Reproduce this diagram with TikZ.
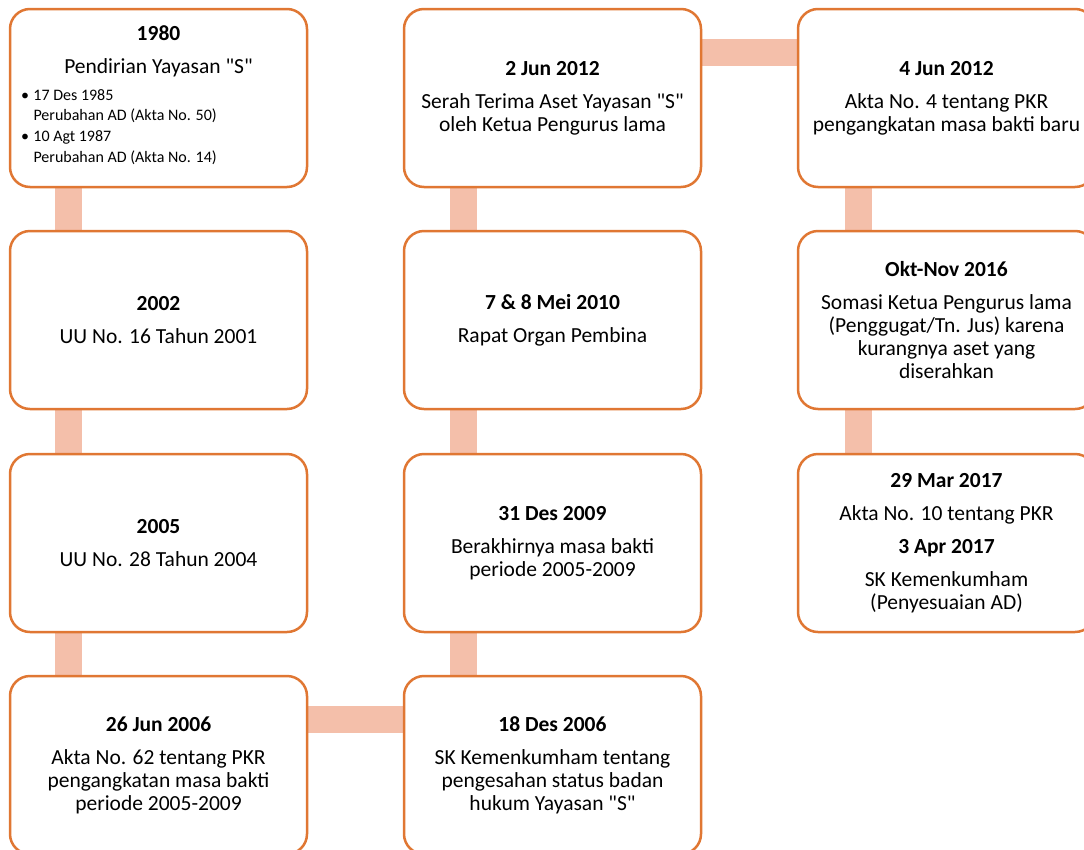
\documentclass[tikz,border=0pt]{standalone}
\usepackage{fontspec}
\setmainfont{Carlito}
\usetikzlibrary{backgrounds}
\definecolor{boxline}{HTML}{E07733}
\definecolor{barfill}{HTML}{F4BFAA}
\tikzset{
  evbox/.style={draw=boxline, line width=2.5pt, fill=white, rounded corners=20pt,
    minimum width=297pt, minimum height=178pt, align=center, inner sep=0pt,
    font=\fontsize{21.5}{23}\selectfont},
  bar/.style={draw=barfill, line width=27pt}
}
\newcommand{\ttl}[1]{\textbf{#1}\\[10pt]}
\newcommand{\dq}{\XeTeXglyph\XeTeXcharglyph"22\relax}
\newcommand{\bul}{\leavevmode\llap{\textbullet\hspace{4.5pt}}}
\begin{document}
\begin{tikzpicture}[x=1pt,y=-1pt]
\useasboundingbox (0,0) rectangle (1084,849);
% column 1
\node[evbox] (b1980) at (158.5,98) {\ttl{1980}Pendirian Yayasan \dq S\dq\\[4pt]
  \fontsize{16}{20.7}\selectfont
  \parbox[t]{272pt}{\raggedright\leftskip=11pt
  \bul 17 Des 1985\\
  Perubahan AD (Akta No. 50)\\
  \bul 10 Agt 1987\\
  Perubahan AD (Akta No. 14)\par\vspace{6pt}}};
\node[evbox] (b2002) at (158.5,320) {\ttl{2002}UU No. 16 Tahun 2001};
\node[evbox] (b2005) at (158.5,543) {\ttl{2005}UU No. 28 Tahun 2004};
\node[evbox] (b2006a) at (158.5,765) {\ttl{26 Jun 2006}Akta No. 62 tentang PKR\\pengangkatan masa bakti\\periode 2005-2009};
% column 2
\node[evbox] (b2012a) at (552.5,98) {\ttl{2 Jun 2012}Serah Terima Aset Yayasan \dq S\dq\\oleh Ketua Pengurus lama};
\node[evbox] (b2010) at (552.5,320) {\ttl{7 \& 8 Mei 2010}Rapat Organ Pembina};
\node[evbox] (b2009) at (552.5,543) {\ttl{31 Des 2009}Berakhirnya masa bakti\\periode 2005-2009};
\node[evbox] (b2006b) at (552.5,765) {\ttl{18 Des 2006}SK Kemenkumham tentang\\pengesahan status badan\\hukum Yayasan \dq S\dq};
% column 3
\node[evbox] (b2012b) at (946.5,98) {\ttl{4 Jun 2012}Akta No. 4 tentang PKR\\pengangkatan masa bakti baru};
\node[evbox] (b2016) at (946.5,320) {\ttl{Okt-Nov 2016}Somasi Ketua Pengurus lama\\(Penggugat/Tn. Jus) karena\\kurangnya aset yang\\diserahkan};
\node[evbox] (b2017) at (946.5,543) {\ttl{29 Mar 2017}Akta No. 10 tentang PKR\\[10pt]\textbf{3 Apr 2017}\\[10pt]SK Kemenkumham\\(Penyesuaian AD)};
% connectors
\begin{scope}[on background layer]
\draw[bar] ([xshift=60pt]b1980.south west) -- ([xshift=60pt]b2002.north west);
\draw[bar] ([xshift=60pt]b2002.south west) -- ([xshift=60pt]b2005.north west);
\draw[bar] ([xshift=60pt]b2005.south west) -- ([xshift=60pt]b2006a.north west);
\draw[bar] ([yshift=-44.5pt]b2006a.north east) -- ([yshift=-44.5pt]b2006b.north west);
\draw[bar] ([xshift=61pt]b2006b.north west) -- ([xshift=61pt]b2009.south west);
\draw[bar] ([xshift=61pt]b2009.north west) -- ([xshift=61pt]b2010.south west);
\draw[bar] ([xshift=61pt]b2010.north west) -- ([xshift=61pt]b2012a.south west);
\draw[bar] ([yshift=-44.5pt]b2012a.north east) -- ([yshift=-44.5pt]b2012b.north west);
\draw[bar] ([xshift=61.5pt]b2012b.south west) -- ([xshift=61.5pt]b2016.north west);
\draw[bar] ([xshift=61.5pt]b2016.south west) -- ([xshift=61.5pt]b2017.north west);
\end{scope}
\end{tikzpicture}
\end{document}
